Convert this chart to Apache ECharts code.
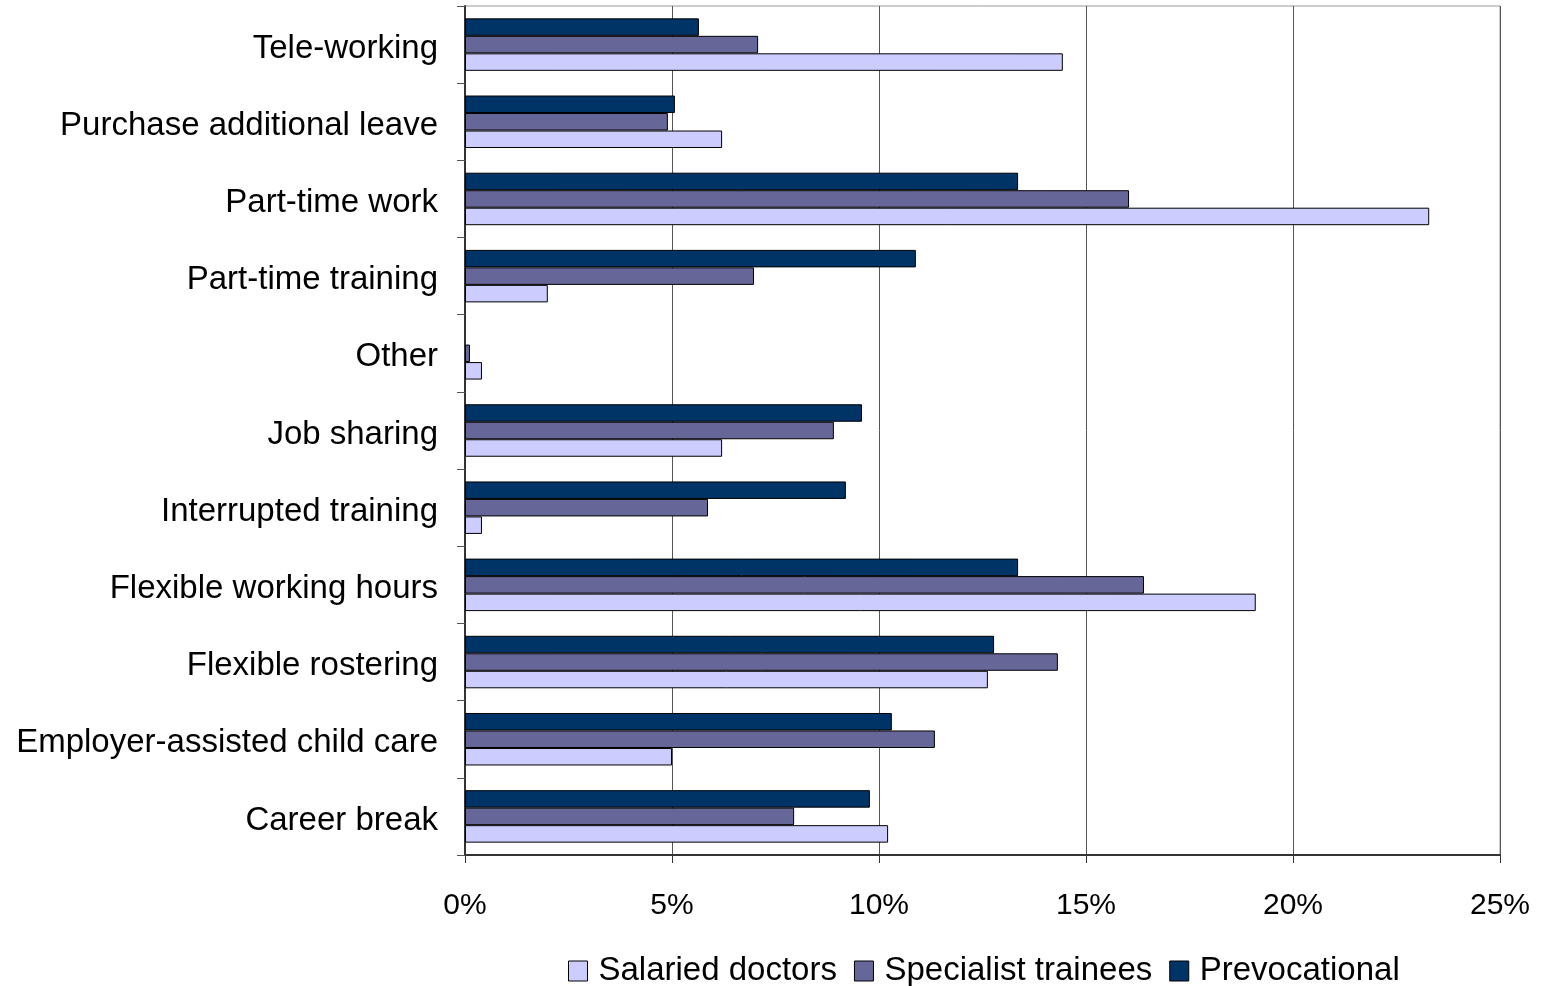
<!DOCTYPE html>
<html>
<head>
<meta charset="utf-8">
<script src="https://cdn.jsdelivr.net/npm/echarts@6/dist/echarts.min.js"></script>
<style>
html,body{margin:0;padding:0;background:#fff;}
#chart{width:1544px;height:986px;}
</style>
</head>
<body>
<div id="chart"></div>
<script>
// Categories listed bottom to top
const categories = [
  'Career break',
  'Employer-assisted child care',
  'Flexible rostering',
  'Flexible working hours',
  'Interrupted training',
  'Job sharing',
  'Other',
  'Part-time training',
  'Part-time work',
  'Purchase additional leave',
  'Tele-working'
];
// Percent of respondents per arrangement
const salariedDoctors     = [10.22, 5.0, 12.63, 19.1, 0.41, 6.21, 0.41, 2.0, 23.29, 6.21, 14.44];
const specialistTrainees  = [7.95, 11.35, 14.32, 16.4, 5.87, 8.91, 0.12, 6.98, 16.04, 4.9, 7.08];
const prevocational       = [9.78, 10.31, 12.78, 13.36, 9.2, 9.59, 0, 10.89, 13.36, 5.07, 5.65];
const xTicks = [0, 5, 10, 15, 20, 25];

const FONT = '"Liberation Sans", Arial, sans-serif';

const chart = echarts.init(document.getElementById('chart'), null, {renderer: 'canvas'});

function barSeries(name, data, color) {
  return {
    name: name,
    type: 'bar',
    // zero-length bars get no outline so nothing is drawn for them
    data: data.map(v => v === 0 ? {value: 0, itemStyle: {borderWidth: 0}} : v),
    barGap: '0%',
    barCategoryGap: '32%',
    itemStyle: {color: color, borderColor: '#000', borderWidth: 1},
    emphasis: {disabled: true},
    animation: false
  };
}

chart.setOption({
  animation: false,
  backgroundColor: '#fff',
  textStyle: {fontFamily: FONT},
  grid: {left: 465, right: 44, top: 6, bottom: 131, containLabel: false,
         show: true, borderColor: '#999', borderWidth: 1},
  legend: {
    top: 954,
    left: 568,
    padding: 0,
    itemWidth: 19,
    itemHeight: 20,
    itemGap: 17,
    textStyle: {fontFamily: FONT, fontSize: 33, lineHeight: 34, color: '#000', padding: [0, 0, 0, 6]},
    data: [
      {name: 'Salaried doctors', icon: 'rect', itemStyle: {borderColor: '#000', borderWidth: 1}},
      {name: 'Specialist trainees', icon: 'rect', itemStyle: {borderColor: '#000', borderWidth: 1}},
      {name: 'Prevocational', icon: 'rect', itemStyle: {borderColor: '#000', borderWidth: 1}}
    ]
  },
  xAxis: {
    type: 'value',
    min: xTicks[0],
    max: xTicks[xTicks.length - 1],
    interval: 5,
    axisLine: {show: true, lineStyle: {color: '#333', width: 2}},
    axisTick: {show: true, length: 8, lineStyle: {color: '#333', width: 1}},
    splitLine: {show: true, lineStyle: {color: '#555', width: 1}},
    axisLabel: {
      formatter: v => v + '%',
      fontFamily: FONT, fontSize: 30, color: '#000', margin: 36
    }
  },
  yAxis: {
    type: 'category',
    data: categories,
    axisLine: {show: true, lineStyle: {color: '#333', width: 2}},
    axisTick: {show: true, length: 8, lineStyle: {color: '#555', width: 1}},
    axisLabel: {
      fontFamily: FONT, fontSize: 33, color: '#000', margin: 27,
      formatter: v => '{c|' + v + '}',
      rich: {c: {fontFamily: FONT, fontSize: 33, color: '#000', padding: [8, 0, 0, 0]}}
    }
  },
  // Top-to-bottom within each group: Prevocational, Specialist trainees, Salaried doctors
  series: [
    barSeries('Prevocational', prevocational, '#003366'),
    barSeries('Specialist trainees', specialistTrainees, '#666699'),
    barSeries('Salaried doctors', salariedDoctors, '#CCCCFF')
  ]
});
</script>
</body>
</html>
